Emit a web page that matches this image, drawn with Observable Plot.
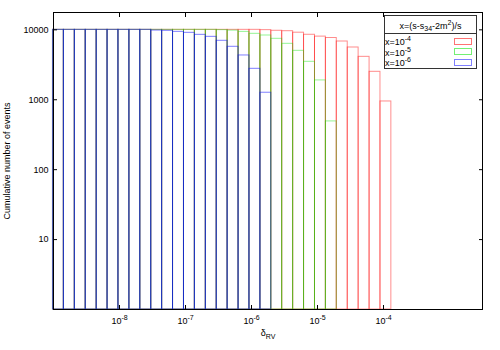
<!DOCTYPE html>
<html><head><meta charset="utf-8">
<script src="https://cdn.jsdelivr.net/npm/d3@7"></script>
<script src="https://cdn.jsdelivr.net/npm/@observablehq/plot@0.6"></script>
<style>
body{margin:0;background:#fff;}
#wrap{position:relative;width:500px;height:350px;font-family:"Liberation Sans",Arial,sans-serif;}
#legend{position:absolute;left:384px;top:15px;width:93px;height:54px;box-sizing:border-box;border:1px solid #333;background:#fff;font-size:9px;color:#000;}
#legend .ttl{position:absolute;left:0;right:0;top:0;height:17px;border-bottom:1px solid #333;text-align:center;line-height:20px;white-space:nowrap;}
#legend .row{position:absolute;left:0;height:10px;line-height:10px;white-space:nowrap;}
#legend .sw{position:absolute;left:69px;width:16px;height:5px;border:1px solid;}
.sup{position:relative;top:-4px;font-size:7px;}
.sub{position:relative;top:2px;font-size:7px;}
</style></head><body><div id="wrap"></div>
<script>
// bin edges (log10 of delta_RV)
const binEdgeExponents = [-9.008,-8.843,-8.677,-8.512,-8.346,-8.181,-8.016,-7.850,-7.685,-7.519,-7.354,-7.189,-7.023,-6.858,-6.692,-6.527,-6.362,-6.196,-6.031,-5.865,-5.700,-5.535,-5.369,-5.204,-5.038,-4.873,-4.708,-4.542,-4.377,-4.211,-4.046,-3.881];
const seriesNames = ["x=10^-4","x=10^-5","x=10^-6"];
const countsXe4 = [10000,10000,10000,10000,10000,10000,10000,10000,10000,10000,10000,10000,10000,10000,10000,10000,10000,10000,10000,9900,9700,9560,9100,8500,8000,7640,6810,5590,4110,2510,945];
const countsXe5 = [10000,10000,10000,10000,10000,10000,10000,10000,10000,10000,10000,10000,10000,10000,10000,9900,9750,9350,8770,8300,7440,6310,5010,3490,1890,490];
const countsXe6 = [10000,10000,10000,10000,10000,10000,10000,10000,10000,9770,9680,9360,9060,8480,7940,6970,5720,4300,2770,1260];
const xTicks = [1e-8,1e-7,1e-6,1e-5,1e-4];
const yTicks = [10,100,1000,10000];
const legendTitle = "x=(s-s_34-2m^2)/s";

const seriesColors = ["rgba(255,0,0,0.45)","rgba(0,230,0,0.42)","rgba(0,0,255,0.5)"];
const rows = [];
[countsXe4, countsXe5, countsXe6].forEach((counts, s) => counts.forEach((v, k) =>
  rows.push({series: seriesNames[s], lo: 10 ** binEdgeExponents[k], hi: 10 ** binEdgeExponents[k + 1], v})));

const font = '"Liberation Sans", Arial, sans-serif';
const chart = Plot.plot({
  width: 500, height: 350,
  marginLeft: 53, marginRight: 18, marginTop: 12, marginBottom: 41,
  style: {fontFamily: font, fontSize: "9px", color: "black", background: "white"},
  x: {type: "log", domain: [1e-9, 10 ** -2.5]},
  y: {type: "log", domain: [1, 17700]},
  color: {domain: seriesNames, range: seriesColors},
  marks: [
    Plot.rect(rows, {x1: "lo", x2: "hi", y1: 1, y2: "v", stroke: "series", fill: "none", strokeWidth: 1}),
    Plot.frame({stroke: "black"}),
    Plot.axisX({anchor: "bottom", ticks: xTicks, tickSize: -4, tickPadding: 12, tickFormat: d => "10^" + Math.round(Math.log10(d)), label: null}),
    Plot.axisX({anchor: "top", ticks: xTicks, tickSize: -4, tickFormat: () => "", label: null}),
    Plot.axisY({anchor: "left", ticks: yTicks, tickSize: -4, tickPadding: 9, tickFormat: d => String(d), label: null}),
    Plot.axisY({anchor: "right", ticks: yTicks, tickSize: -4, tickFormat: () => "", label: null}),
    Plot.text(["δ_RV"], {frameAnchor: "bottom", dy: 26, fontSize: 9}),
    Plot.text(["Cumulative number of events"], {frameAnchor: "left", dx: -46, rotate: -90, fontSize: 9, textAnchor: "middle"})
  ]
});

// rich text: superscripts / subscripts
d3.select(chart).selectAll("text").each(function () {
  const t = this.textContent;
  if (t.includes("^") && !t.includes("_")) {
    const [base, exp] = t.split("^");
    const s = d3.select(this); s.text(null);
    s.append("tspan").text(base);
    s.append("tspan").attr("dy", "-4").attr("font-size", "7px").text(exp);
  } else if (t.includes("_")) {
    const [base, sub] = t.split("_");
    const s = d3.select(this); s.text(null);
    s.append("tspan").text(base);
    s.append("tspan").attr("dy", "3").attr("font-size", "7px").text(sub);
  }
});

const wrap = document.getElementById("wrap");
wrap.appendChild(chart);

// legend
function rich(str) {
  return str.replace(/\^(-?\d+)/g, (m, a) => `<span class="sup">${a}</span>`)
            .replace(/_(\d+)/g, (m, a) => `<span class="sub">${a}</span>`);
}
const lg = document.createElement("div");
lg.id = "legend";
let html = `<div class="ttl">${rich(legendTitle)}</div>`;
const rowTops = [21, 31.5, 42];
const swatchColors = ["#ff7373","#73f073","#8080ff"];
seriesNames.forEach((n, i) => {
  html += `<div class="row" style="top:${rowTops[i]}px">${rich(n)}</div>`;
  html += `<div class="sw" style="top:${rowTops[i] + 0.5}px;border-color:${swatchColors[i]}"></div>`;
});
lg.innerHTML = html;
wrap.appendChild(lg);
</script></body></html>
